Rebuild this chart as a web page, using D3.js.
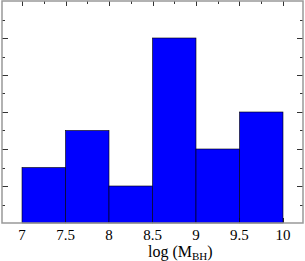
<!doctype html>
<html>
<head>
<meta charset="utf-8">
<style>
  body{margin:0;background:#fff;}
</style>
</head>
<body>
<div id="vis"></div>
<script src="https://cdn.jsdelivr.net/npm/d3@7"></script>
<script>
  var binStarts = [7, 7.5, 8, 8.5, 9, 9.5],
    binWidth = 0.5,
    counts = [3, 5, 2, 10, 4, 6],
    xTicks = [7, 7.5, 8, 8.5, 9, 9.5, 10],
    xMinor = [6.75, 7.25, 7.75, 8.25, 8.75, 9.25, 9.75, 10.25],
    yMajor = [2, 4, 6, 8, 10],
    yMinor = [1, 3, 5, 7, 9, 11];

  var width = 305, height = 261;
  var margin = {left: 2, right: 2, top: 1, bottom: 38};
  var serif = "'Times New Roman', 'Liberation Serif', 'DejaVu Serif', serif";

  var svg = d3.select("#vis").append("svg")
    .attr("width", width)
    .attr("height", height);

  var x = d3.scaleLinear().domain([6.77, 10.23]).range([margin.left, width - margin.right]);
  var y = d3.scaleLinear().domain([0, 12]).range([height - margin.bottom, margin.top]);

  var x0 = x.range()[0], x1 = x.range()[1], y0 = y.range()[0], y1 = y.range()[1];

  // ticks on all four sides
  var ticks = svg.append("g").attr("stroke", "#333").attr("stroke-width", 1);
  function xt(vals, len){
    vals.forEach(function(v){
      var px = Math.round(x(v)) + 0.5;
      ticks.append("line").attr("x1", px).attr("x2", px).attr("y1", y1).attr("y2", y1 + len);
      ticks.append("line").attr("x1", px).attr("x2", px).attr("y1", y0).attr("y2", y0 - len);
    });
  }
  function yt(vals, len){
    vals.forEach(function(v){
      var py = Math.round(y(v)) + 0.5;
      ticks.append("line").attr("y1", py).attr("y2", py).attr("x1", x0).attr("x2", x0 + len);
      ticks.append("line").attr("y1", py).attr("y2", py).attr("x1", x1).attr("x2", x1 - len);
    });
  }
  xt(xTicks, 5); xt(xMinor.filter(function(v){return v > 6.77 && v < 10.23;}), 3);
  yt(yMajor, 6); yt(yMinor, 3);

  // bars
  svg.append("g").selectAll("rect")
    .data(counts)
    .enter().append("rect")
    .attr("x", function(d, i){ return x(binStarts[i]); })
    .attr("width", function(d, i){ return x(binStarts[i] + binWidth) - x(binStarts[i]); })
    .attr("y", function(d){ return y(d); })
    .attr("height", function(d){ return y(0) - y(d); })
    .attr("fill", "#0000ff")
    .attr("stroke", "#000")
    .attr("stroke-width", 0.6);

  // frame
  svg.append("rect")
    .attr("x", x0).attr("y", y1)
    .attr("width", x1 - x0).attr("height", y0 - y1)
    .attr("fill", "none")
    .attr("stroke", "#999")
    .attr("stroke-width", 1.5);

  // tick labels
  svg.append("g").selectAll("text")
    .data(xTicks)
    .enter().append("text")
    .attr("x", function(d){ return x(d); })
    .attr("y", y0 + 17)
    .attr("text-anchor", "middle")
    .attr("font-family", serif)
    .attr("font-size", 15)
    .text(function(d){ return d; });

  var label = svg.append("text")
    .attr("x", x(8.82))
    .attr("y", y0 + 34)
    .attr("text-anchor", "middle")
    .attr("font-family", serif)
    .attr("font-size", 16);
  label.append("tspan").text("log (M");
  label.append("tspan").attr("dy", 3).attr("font-size", 11).text("BH");
  label.append("tspan").attr("dy", -3).text(")");
</script>
</body>
</html>
